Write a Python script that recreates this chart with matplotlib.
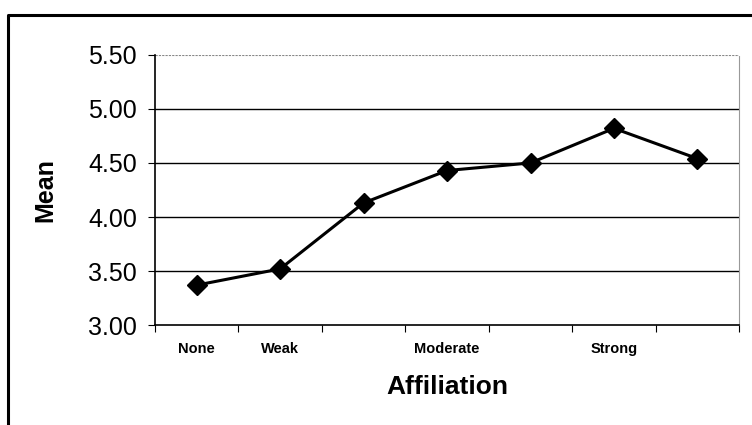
import matplotlib
matplotlib.use("Agg")
import matplotlib.pyplot as plt
from matplotlib.lines import Line2D
import numpy as np

# affiliation levels (7 points, only some are labelled)
positions = [0, 1, 2, 3, 4, 5, 6]
means = [3.37, 3.52, 4.13, 4.43, 4.50, 4.82, 4.54]
label_pos = [0, 1, 3, 5]
label_text = ["None", "Weak", "Moderate", "Strong"]
y_ticks = [3.00, 3.50, 4.00, 4.50, 5.00, 5.50]

plt.rcParams["font.family"] = ["Liberation Sans", "DejaVu Sans"]

fig = plt.figure(figsize=(7.52, 4.25), dpi=100)
ax = fig.add_axes([0.206, 0.235, 0.777, 0.636])

# gridlines
for y in y_ticks[1:-1]:
    ax.axhline(y, color="black", lw=1.0, zorder=1)
ax.axhline(5.50, color="#888888", lw=0.8, ls=(0, (2, 1)), zorder=1)

ax.plot(positions, means, color="black", lw=2.2, marker="D", markersize=10,
        markerfacecolor="black", zorder=3)

ax.set_xlim(-0.5, 6.5)
ax.set_ylim(3.0, 5.5)
ax.set_yticks(y_ticks)
ax.set_yticklabels([f"{v:.2f}" for v in y_ticks], fontsize=18)
ax.tick_params(axis="y", length=5, width=0.8, pad=8)

ax.set_xticks(label_pos)
ax.set_xticklabels(label_text, fontsize=10.5, fontweight="bold")
ax.tick_params(axis="x", which="major", length=0, pad=12)
ax.set_xticks(np.arange(-0.5, 7, 1), minor=True)
ax.tick_params(axis="x", which="minor", length=5, width=0.8)

for side in ["left", "bottom"]:
    ax.spines[side].set_linewidth(1.2)
ax.spines["top"].set_visible(False)
ax.spines["right"].set_color("#999999")
ax.spines["right"].set_linestyle((0, (2, 1)))
ax.spines["right"].set_linewidth(0.8)

ax.set_ylabel("Mean", fontsize=18, fontweight="bold", labelpad=22)
ax.set_xlabel("Affiliation", fontsize=19, fontweight="bold", labelpad=14)

# outer frame (left and top edge of the chart box)
fx = 8 / 752
fy = 1 - 15 / 425
fig.add_artist(Line2D([fx, fx, 1.0], [0.0, fy, fy], color="black", lw=2.2,
                      transform=fig.transFigure))

fig.savefig("out.png", dpi=100)
